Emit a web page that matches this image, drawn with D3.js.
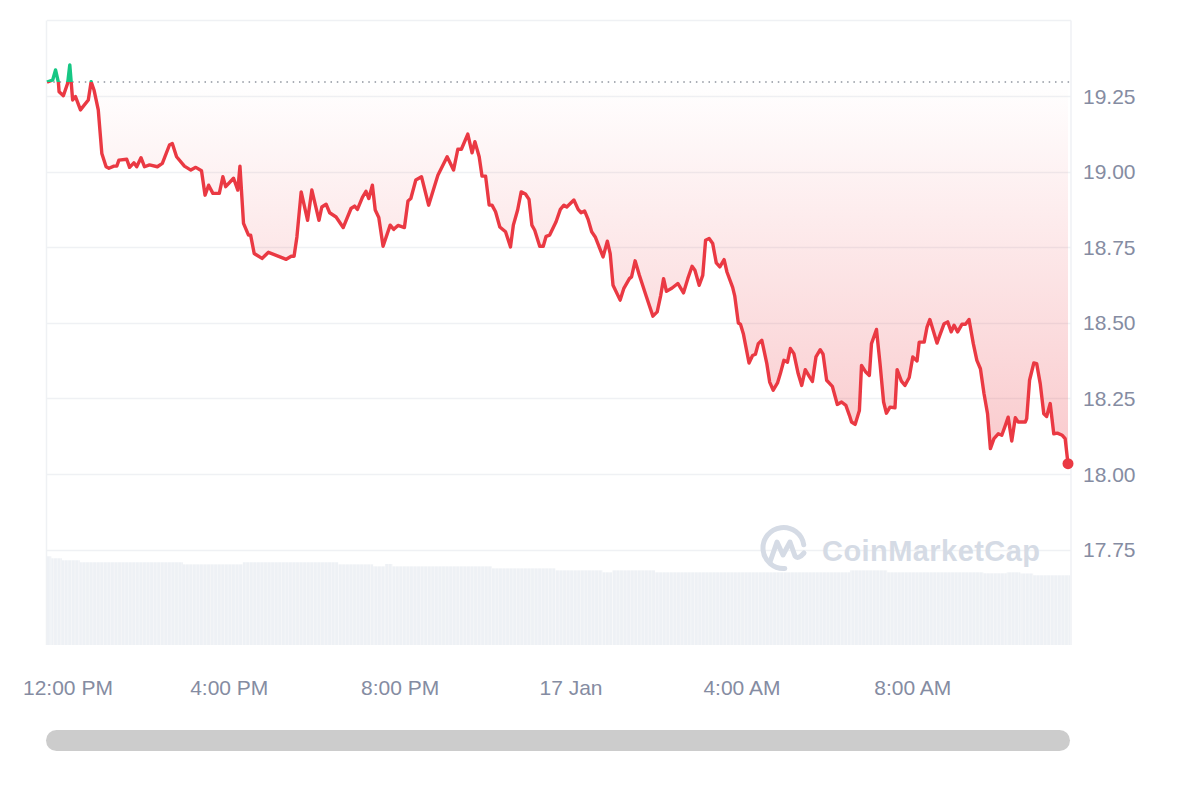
<!DOCTYPE html>
<html><head><meta charset="utf-8">
<script src="https://cdn.jsdelivr.net/npm/d3@7"></script>
<style>
body{margin:0;background:#fff;}
svg{display:block;}
</style>
</head><body>
<svg id="chart" width="1200" height="800"></svg>
<script>
// ---- data (minutes from 12:00 PM, 16 Jan) ----
const priceMinutes = [
 -16,-8,-4,0,1,7,13,16,20,24,
 31,42,46,50,56,61,67,71,78,82,
 85,96,100,106,110,116,121,128,139,146,
 156,160,166,177,186,193,201,206,211,217,
 226,231,235,246,252,255,260,267,270,275,
 286,295,320,327,331,335,341,350,356,366,
 370,376,381,390,400,411,416,420,427,432,
 436,441,445,450,456,466,471,477,486,491,
 495,502,510,520,528,533,546,555,561,566,
 575,581,585,591,595,600,605,609,614,620,
 628,635,639,645,650,656,661,665,669,676,
 681,685,690,699,705,710,714,724,730,734,
 739,744,749,754,765,771,775,779,789,794,
 802,805,810,816,826,835,841,846,850,854,
 862,870,878,884,890,894,900,905,909,914,
 919,924,929,935,939,947,950,955,958,962,
 970,975,979,983,988,995,999,1004,1010,1014,
 1019,1024,1028,1033,1039,1044,1049,1055,1059,1064,
 1070,1074,1079,1087,1094,1100,1106,1111,1114,1119,
 1125,1128,1134,1139,1142,1149,1154,1159,1163,1168,
 1175,1178,1184,1189,1195,1200,1206,1209,1216,1220,
 1224,1234,1238,1244,1249,1254,1258,1263,1269,1274,
 1279,1285,1290,1295,1300,1305,1309,1314,1320,1325,
 1330,1334,1339,1344,1348,1358,1360,1364,1370,1374,
 1379,1384,1388,1393,1398,1403,1410,1414,1418
];
const priceValues = [
 19.296,19.303,19.336,19.295,19.264,19.251,19.292,19.353,19.237,19.248,
 19.204,19.237,19.297,19.270,19.204,19.060,19.016,19.011,19.018,19.018,
 19.038,19.041,19.014,19.029,19.016,19.046,19.016,19.022,19.016,19.027,
 19.088,19.093,19.049,19.018,19.005,19.014,19.003,18.922,18.955,18.928,
 18.928,18.983,18.950,18.978,18.939,19.018,18.829,18.790,18.790,18.729,
 18.713,18.733,18.710,18.720,18.720,18.784,18.933,18.839,18.939,18.839,
 18.883,18.892,18.864,18.850,18.815,18.878,18.886,18.875,18.915,18.935,
 18.911,18.955,18.873,18.848,18.753,18.823,18.809,18.822,18.815,18.903,
 18.911,18.972,18.983,18.889,18.950,18.988,19.049,19.005,19.074,19.074,
 19.124,19.062,19.099,19.049,18.985,18.985,18.889,18.889,18.867,18.817,
 18.801,18.751,18.823,18.873,18.933,18.926,18.908,18.823,18.806,18.753,
 18.753,18.786,18.790,18.834,18.875,18.889,18.883,18.906,18.875,18.864,
 18.870,18.842,18.801,18.784,18.718,18.770,18.729,18.624,18.575,18.613,
 18.646,18.652,18.705,18.657,18.585,18.522,18.536,18.591,18.646,18.604,
 18.615,18.630,18.599,18.646,18.687,18.674,18.624,18.657,18.773,18.779,
 18.762,18.698,18.685,18.709,18.668,18.617,18.588,18.499,18.495,18.464,
 18.367,18.392,18.396,18.431,18.442,18.365,18.304,18.277,18.301,18.332,
 18.376,18.370,18.415,18.398,18.332,18.293,18.345,18.321,18.306,18.387,
 18.411,18.396,18.310,18.290,18.230,18.238,18.227,18.194,18.172,18.164,
 18.210,18.359,18.337,18.326,18.431,18.478,18.365,18.238,18.201,18.221,
 18.219,18.345,18.307,18.293,18.319,18.387,18.374,18.436,18.436,18.486,
 18.511,18.433,18.459,18.497,18.503,18.470,18.492,18.470,18.495,18.495,
 18.511,18.431,18.376,18.348,18.266,18.199,18.084,18.117,18.133,18.128,
 18.161,18.188,18.109,18.186,18.172,18.172,18.183,18.310,18.367,18.365,
 18.299,18.199,18.190,18.233,18.133,18.135,18.128,18.117,18.034
];
const baselinePrice = 19.296;
const yTickValues = [17.75, 18.00, 18.25, 18.50, 18.75, 19.00, 19.25];
const gridValues = [17.75, 18.00, 18.25, 18.50, 18.75, 19.00, 19.25, 19.50];
const xTickMinutes = [0, 240, 480, 720, 960, 1200];
const xTickLabels = ["12:00 PM", "4:00 PM", "8:00 PM", "17 Jan", "4:00 AM", "8:00 AM"];
// volume (arbitrary units), constant over each interval [volumeBreaks[i], volumeBreaks[i+1]]
const volumeBreaks = [-16,-10,5,30,175,259,393,442,459,469,609,698,764,778,838,1112,1164,1299,1332,1351,1369,1421];
const volumeValues = [93.4,91.3,89.2,87.1,84.9,87.1,84.9,82.8,85.3,82.8,80.7,78.6,76.5,78.6,76.5,78.6,76.5,75.5,76.5,75.3,73.4];

// ---- helpers ----
const t0 = new Date(2025, 0, 16, 12, 0, 0);
const toDate = m => new Date(t0.getTime() + m * 60000);
const data = priceMinutes.map((m, i) => ({ t: toDate(m), v: priceValues[i] }));

const svg = d3.select("#chart");
const left = 47, right = 1071, plotBottom = 645;
const font = "'Liberation Sans', Arial, Helvetica, sans-serif";
const axisColor = "#858ca2";

const x = d3.scaleTime().domain([toDate(-16), toDate(1418)]).range([47, 1068]);
const y = d3.scaleLinear().domain([18.00, 19.25]).range([474, 96]);
const yVol = d3.scaleLinear().domain([0, 100]).range([645, 550]);

const defs = svg.append("defs");
const grad = defs.append("linearGradient").attr("id", "redGrad")
  .attr("gradientUnits", "userSpaceOnUse").attr("x1", 0).attr("x2", 0)
  .attr("y1", y(baselinePrice)).attr("y2", y(18.0));
grad.append("stop").attr("offset", "0%").attr("stop-color", "#ea3943").attr("stop-opacity", 0.0);
grad.append("stop").attr("offset", "100%").attr("stop-color", "#ea3943").attr("stop-opacity", 0.28);
const ggrad = defs.append("linearGradient").attr("id", "greenGrad")
  .attr("gradientUnits", "userSpaceOnUse").attr("x1", 0).attr("x2", 0)
  .attr("y1", y(19.36)).attr("y2", y(baselinePrice));
ggrad.append("stop").attr("offset", "0%").attr("stop-color", "#16c784").attr("stop-opacity", 0.2);
ggrad.append("stop").attr("offset", "100%").attr("stop-color", "#16c784").attr("stop-opacity", 0.0);

const by = y(baselinePrice);
defs.append("clipPath").attr("id", "below").append("rect")
  .attr("x", 0).attr("y", by).attr("width", 1200).attr("height", 800);
defs.append("clipPath").attr("id", "above").append("rect")
  .attr("x", 0).attr("y", 0).attr("width", 1200).attr("height", by);

const step = x(toDate(5)) - x(toDate(0));
const pat = defs.append("pattern").attr("id", "volPat").attr("patternUnits", "userSpaceOnUse")
  .attr("x", 47).attr("y", 0).attr("width", step).attr("height", 800);
pat.append("rect").attr("width", step).attr("height", 800).attr("fill", "#eef1f5");
pat.append("rect").attr("x", step - 0.7).attr("width", 0.7).attr("height", 800).attr("fill", "#f7f8fa");

// grid
svg.append("g").selectAll("line").data(gridValues).join("line")
  .attr("x1", left).attr("x2", right)
  .attr("y1", d => Math.round(y(d)) + 0.5).attr("y2", d => Math.round(y(d)) + 0.5)
  .attr("stroke", "#eff1f4").attr("stroke-width", 1.5);
svg.append("line").attr("x1", left - 0.5).attr("x2", left - 0.5).attr("y1", y(19.5)).attr("y2", plotBottom)
  .attr("stroke", "#eff1f4").attr("stroke-width", 1.5);
svg.append("line").attr("x1", right).attr("x2", right).attr("y1", y(19.5)).attr("y2", plotBottom)
  .attr("stroke", "#eff1f4").attr("stroke-width", 1.5);

// volume bars
const vol = volumeValues.map((v, i) => ({ a: toDate(volumeBreaks[i]), b: toDate(volumeBreaks[i + 1]), v }));
svg.append("g").selectAll("rect").data(vol).join("rect")
  .attr("x", d => Math.max(left, x(d.a)))
  .attr("width", d => Math.min(right - 0.5, x(d.b)) - Math.max(left, x(d.a)))
  .attr("y", d => yVol(d.v))
  .attr("height", d => yVol(0) - yVol(d.v))
  .attr("fill", "url(#volPat)");

// watermark
const wm = svg.append("g").attr("fill", "none").attr("stroke", "#d5dbe5").attr("stroke-width", 5)
  .attr("stroke-linecap", "round").attr("stroke-linejoin", "round");
const cx = 783.5, cy = 548, r = 20.5;
const arc = d3.arc().innerRadius(r).outerRadius(r).startAngle(Math.PI * 0.98).endAngle(Math.PI * 2.45);
wm.append("path").attr("transform", `translate(${cx},${cy})`).attr("d", arc());
wm.append("path").attr("d", "M770,562 L777,542 L783,555 L790,542 L795,556 Q798,560 804,553");
svg.append("text").attr("x", 822).attr("y", 561).attr("font-family", font)
  .attr("font-weight", 700).attr("font-size", 29).attr("fill", "#d5dbe5")
  .attr("textLength", 218).text("CoinMarketCap");

// baseline dotted
svg.append("line").attr("x1", left).attr("x2", right).attr("y1", by).attr("y2", by)
  .attr("stroke", "#8f949e").attr("stroke-width", 1.5).attr("stroke-dasharray", "1.5,4.8");

// area + line
const area = d3.area().x(d => x(d.t)).y0(by).y1(d => y(d.v));
const line = d3.line().x(d => x(d.t)).y(d => y(d.v));
svg.append("path").datum(data).attr("d", area).attr("fill", "url(#redGrad)").attr("clip-path", "url(#below)");
svg.append("path").datum(data).attr("d", area).attr("fill", "url(#greenGrad)").attr("clip-path", "url(#above)");
svg.append("path").datum(data).attr("d", line).attr("fill", "none").attr("stroke", "#ea3943")
  .attr("stroke-width", 3.4).attr("stroke-linejoin", "round").attr("clip-path", "url(#below)");
svg.append("path").datum(data).attr("d", line).attr("fill", "none").attr("stroke", "#16c784")
  .attr("stroke-width", 3.4).attr("stroke-linejoin", "round").attr("clip-path", "url(#above)");
const last = data[data.length - 1];
svg.append("circle").attr("cx", x(last.t)).attr("cy", y(last.v)).attr("r", 5.5).attr("fill", "#ea3943");

// y labels
svg.append("g").selectAll("text").data(yTickValues).join("text")
  .attr("x", 1083).attr("y", d => y(d)).attr("dy", "0.36em")
  .attr("font-family", font).attr("font-size", 21).attr("fill", axisColor)
  .text(d => d.toFixed(2));

// x labels
const xl = svg.append("g").selectAll("text").data(xTickMinutes).join("text")
  .attr("x", d => x(toDate(d))).attr("y", 695)
  .attr("text-anchor", "middle")
  .attr("font-family", font).attr("font-size", 21).attr("fill", axisColor)
  .text((d, i) => xTickLabels[i]);
xl.each(function () {
  const bb = this.getBBox();
  if (bb.x < 23) d3.select(this).attr("x", +d3.select(this).attr("x") + (23 - bb.x));
});

// scrollbar
svg.append("rect").attr("x", 46).attr("y", 730).attr("width", 1024).attr("height", 21)
  .attr("rx", 10.5).attr("fill", "#cccccc");
</script>
</body></html>
